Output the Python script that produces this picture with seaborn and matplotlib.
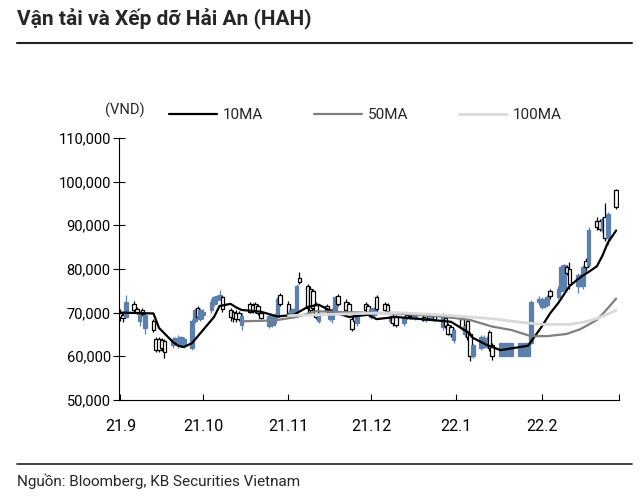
import numpy as np
import pandas as pd
import matplotlib
matplotlib.use("Agg")
import matplotlib.pyplot as plt
from matplotlib.lines import Line2D
from matplotlib.ticker import FuncFormatter
import seaborn as sns

# Trading days (weekdays) Sep 2021 - Feb 2022
dates = pd.bdate_range("2021-09-01", "2022-02-28")

# Daily prices in thousand VND (one line per month)
open_k = [70.0, 69.5, 69.0, 72.0, 70.8, 68.0, 70.5, 66.5, 68.0, 64.0, 64.0, 63.8, 63.5, 62.5, 62.8, 62.5, 62.6, 62.5, 62.0, 68.0, 71.0, 68.5,
          69.5, 70.5, 72.0, 72.8, 73.5, 73.5, 70.5, 70.2, 70.0, 69.8, 67.2, 72.0, 71.8, 72.0, 71.5, 70.0, 67.0, 67.2, 67.5, 69.0, 74.0,
          72.0, 70.0, 70.0, 70.5, 78.0, 76.0, 75.5, 75.0, 72.0, 68.0, 71.5, 68.5, 68.5, 70.5, 73.8, 72.5, 72.0, 68.5, 69.5, 67.5, 72.0, 71.5,
          69.0, 69.5, 73.5, 72.0, 71.8, 68.0, 69.2, 69.0, 67.5, 69.5, 69.2, 69.4, 68.8, 69.0, 68.2, 69.2, 68.8, 69.4, 66.8, 68.8, 67.2, 66.8, 63.8,
          68.5, 65.0, 68.0, 65.0, 60.0, 62.0, 62.5, 62.2, 65.5, 62.5, 60.0, 60.0, 60.0, 60.0, 60.0, 60.0, 60.0, 60.0, 60.0, 63.0, 72.5,
          71.2, 71.5, 71.8, 75.0, 73.5, 75.0, 75.5, 80.5, 80.0, 76.0, 76.2, 76.0, 81.8, 81.0, 91.0, 91.0, 89.0, 92.0, 87.0, 98.0]
high_k = [70.8, 70.2, 74.0, 72.6, 71.3, 70.4, 71.0, 70.0, 68.5, 64.5, 64.3, 64.2, 64.0, 64.5, 64.5, 64.8, 64.6, 64.5, 68.5, 71.0, 71.5, 71.0,
          70.8, 73.0, 73.8, 74.0, 75.2, 74.0, 71.0, 70.6, 70.5, 70.3, 69.8, 72.5, 72.3, 72.4, 72.0, 70.4, 69.8, 69.5, 69.8, 73.5, 74.5,
          72.6, 71.0, 71.0, 76.5, 79.2, 76.5, 76.0, 75.5, 72.5, 70.2, 72.0, 70.8, 71.0, 73.8, 74.2, 73.0, 72.5, 69.0, 70.0, 69.5, 72.5, 72.0,
          71.0, 71.2, 74.0, 72.5, 72.2, 69.5, 69.6, 69.4, 69.2, 70.0, 69.6, 69.8, 69.6, 69.4, 69.0, 69.6, 69.4, 69.8, 70.0, 69.2, 67.6, 67.2, 66.5,
          69.0, 67.3, 68.5, 65.5, 62.8, 64.8, 64.8, 64.6, 66.0, 63.0, 63.0, 63.0, 63.0, 63.0, 63.0, 63.0, 63.0, 63.0, 63.0, 72.8, 73.8,
          73.5, 73.4, 74.0, 75.5, 76.0, 81.0, 81.2, 81.0, 81.5, 79.0, 78.8, 81.0, 82.5, 89.5, 92.0, 91.5, 91.8, 95.0, 93.0, 98.2]
low_k = [68.0, 67.8, 68.8, 70.0, 69.6, 67.0, 69.2, 65.0, 65.5, 61.0, 61.0, 61.2, 59.5, 62.0, 62.5, 62.0, 62.2, 62.0, 61.5, 67.5, 68.5, 68.0,
         68.5, 70.0, 71.5, 72.0, 72.8, 70.2, 68.0, 67.8, 67.8, 68.0, 66.0, 69.8, 70.0, 70.0, 69.5, 68.5, 66.5, 66.8, 67.0, 68.8, 71.5,
         69.5, 69.0, 69.5, 70.0, 76.5, 70.0, 70.0, 70.5, 68.5, 67.5, 70.0, 68.0, 67.5, 70.0, 71.5, 70.0, 69.8, 65.8, 67.5, 67.0, 70.0, 69.8,
         68.5, 69.0, 70.2, 70.0, 70.0, 67.5, 67.0, 66.8, 67.0, 68.5, 68.5, 68.6, 68.4, 68.0, 67.8, 68.5, 68.4, 68.0, 66.0, 66.5, 64.8, 64.5, 63.0,
         66.0, 64.5, 63.8, 58.8, 59.5, 61.5, 62.0, 61.8, 61.2, 59.2, 60.0, 60.0, 60.0, 60.0, 60.0, 60.0, 60.0, 60.0, 60.0, 62.8, 71.8,
         70.8, 71.0, 71.2, 73.2, 73.0, 74.8, 75.0, 78.5, 75.5, 74.5, 75.8, 75.5, 79.5, 80.5, 89.0, 88.8, 88.5, 86.5, 85.5, 93.8]
close_k = [69.0, 68.8, 72.5, 70.5, 70.0, 70.0, 69.6, 69.5, 66.0, 61.5, 61.5, 61.8, 61.0, 64.0, 64.2, 64.0, 64.3, 64.0, 68.0, 70.5, 69.0, 70.5,
           70.2, 72.5, 73.5, 73.8, 74.0, 70.8, 69.0, 68.8, 68.5, 68.6, 69.2, 70.2, 70.5, 70.3, 70.0, 68.8, 69.2, 69.0, 69.5, 73.0, 72.0,
           70.0, 70.5, 70.8, 76.0, 77.0, 71.0, 70.5, 71.0, 69.0, 70.0, 70.5, 70.5, 70.8, 73.5, 72.0, 70.5, 70.2, 66.2, 68.0, 69.0, 70.5, 70.2,
           70.8, 71.0, 70.8, 70.5, 70.3, 69.0, 67.5, 67.2, 69.0, 69.0, 68.8, 69.0, 69.3, 68.4, 68.8, 68.8, 69.0, 68.4, 69.5, 67.0, 65.2, 65.0, 66.0,
           66.5, 67.0, 64.3, 60.0, 62.5, 64.5, 64.2, 64.0, 61.8, 60.0, 63.0, 63.0, 63.0, 63.0, 63.0, 63.0, 63.0, 63.0, 63.0, 72.5, 73.2,
           73.0, 73.0, 73.5, 73.8, 75.5, 80.5, 80.8, 79.0, 76.5, 78.5, 78.5, 80.5, 80.5, 89.0, 89.5, 89.2, 91.5, 87.0, 92.5, 94.2]

# Moving averages (thousand VND)
ma10_dates = ["2021-09-01", "2021-09-13", "2021-09-15", "2021-09-20", "2021-09-22", "2021-09-24", "2021-09-27",
              "2021-09-29", "2021-10-01", "2021-10-05", "2021-10-07", "2021-10-11", "2021-10-13", "2021-10-15",
              "2021-10-22", "2021-10-28", "2021-11-03", "2021-11-08", "2021-11-12", "2021-11-17", "2021-11-23",
              "2021-11-30", "2021-12-03", "2021-12-10", "2021-12-23", "2021-12-30", "2022-01-05", "2022-01-07",
              "2022-01-12", "2022-01-17", "2022-01-24", "2022-01-27", "2022-02-01", "2022-02-04", "2022-02-07",
              "2022-02-11", "2022-02-14", "2022-02-16", "2022-02-18", "2022-02-21", "2022-02-23", "2022-02-25",
              "2022-02-28"]
ma10 = [70.0, 69.8, 66.5, 63.3, 62.4, 62.1, 63.0, 64.5, 66.0, 69.0, 71.5, 72.0, 71.2, 70.6, 70.2, 69.1, 69.5, 71.3,
        71.8, 70.2, 69.0, 69.5, 68.5, 69.0, 68.3, 67.9, 65.6, 64.2, 62.6, 61.4, 62.1, 62.4, 66.8, 69.8, 72.2, 76.0,
        77.6, 78.5, 79.3, 80.6, 83.0, 86.0, 88.8]
ma50_dates = ["2021-10-15", "2021-10-27", "2021-11-04", "2021-11-11", "2021-11-22", "2021-12-10", "2021-12-28",
              "2022-01-06", "2022-01-14", "2022-01-21", "2022-01-28", "2022-02-03", "2022-02-10", "2022-02-15",
              "2022-02-21", "2022-02-24", "2022-02-28"]
ma50 = [68.0, 68.2, 69.0, 70.3, 70.1, 69.8, 69.0, 68.3, 66.8, 66.0, 64.6, 64.6, 65.1, 66.2, 68.3, 70.3, 73.2]
ma100_dates = ["2021-11-01", "2021-11-22", "2021-12-10", "2021-12-28", "2022-01-14", "2022-01-24", "2022-02-01",
               "2022-02-11", "2022-02-16", "2022-02-21", "2022-02-24", "2022-02-28"]
ma100 = [69.3, 69.7, 70.0, 69.4, 68.6, 67.8, 67.3, 67.3, 67.8, 68.6, 69.4, 70.5]

month_ticks = ["2021-09-01", "2021-10-01", "2021-11-01", "2021-12-01", "2022-01-01", "2022-02-01", "2022-03-01"]
month_labels = ["21.9", "21.10", "21.11", "21.12", "22.1", "22.2", ""]

BLUE = "#5b80ad"

sns.set_theme(style="ticks")
plt.rcParams['font.family'] = ['Roboto', 'DejaVu Sans']

df = pd.DataFrame({"date": dates, "open": np.array(open_k) * 1000, "high": np.array(high_k) * 1000,
                   "low": np.array(low_k) * 1000, "close": np.array(close_k) * 1000})
up = df["close"] >= df["open"]

fig = plt.figure(figsize=(6.4, 4.98), dpi=100)
ax = fig.add_axes([0.186, 0.197, 0.781, 0.526])

# Candles: wicks then bodies
ax.vlines(df["date"], df["low"], df["high"], colors=np.where(up, BLUE, "black"), lw=0.9, zorder=2)
ax.bar(df["date"], (df["close"] - df["open"]).abs().clip(lower=200), bottom=df[["open", "close"]].min(axis=1),
       width=1.3, color=np.where(up, BLUE, "white"), edgecolor=np.where(up, BLUE, "black"),
       linewidth=0.9, zorder=3)

# Moving averages
ma_lines = [(ma10_dates, ma10, "black", 1.6, "10MA"),
            (ma50_dates, ma50, "#7f7f7f", 1.6, "50MA"),
            (ma100_dates, ma100, "#d9d9d9", 2.0, "100MA")]
for d, v, col, lw, name in ma_lines:
    sns.lineplot(x=pd.to_datetime(d), y=np.array(v) * 1000, color=col, lw=lw, ax=ax, zorder=4)

ax.set_xlim(pd.Timestamp("2021-08-31 12:00"), pd.Timestamp("2022-03-01"))
ax.set_ylim(50000, 110000)
ax.set_xticks(pd.to_datetime(month_ticks))
ax.set_xticklabels(month_labels)
ax.set_yticks(range(50000, 110001, 10000))
ax.yaxis.set_major_formatter(FuncFormatter(lambda v, p: f"{v:,.0f}"))
ax.set_xlabel("")
ax.set_ylabel("")
ax.tick_params(axis="x", direction="in", length=4.5, width=0.8, pad=14, labelsize=11.5, colors="black")
ax.tick_params(axis="y", direction="inout", length=8, width=0.8, pad=2, labelsize=10.5, colors="black")
sns.despine(ax=ax)
for s in ["left", "bottom"]:
    ax.spines[s].set_color("black")
    ax.spines[s].set_linewidth(0.8)

handles = [Line2D([], [], color=c, lw=lw) for _, _, c, lw, _ in ma_lines]
fig.legend(handles, [m[4] for m in ma_lines], loc="center", bbox_to_anchor=(0.571, 0.769), ncol=3,
           frameon=False, fontsize=11, handlelength=3.14, handletextpad=0.4, columnspacing=3.3)

fig.text(0.195, 0.779, "(VND)", ha="center", va="center", fontsize=10.5)

# Header and footer
fig.text(0.027, 0.962, "Vận tải và Xếp dỡ Hải An (HAH)", fontsize=15, fontweight="bold", va="center")
fig.add_artist(Line2D([0.027, 0.988], [0.914, 0.914], transform=fig.transFigure, color="#222222", lw=1.5))
fig.add_artist(Line2D([0.027, 0.988], [0.068, 0.068], transform=fig.transFigure, color="#222222", lw=1.2))
fig.text(0.027, 0.034, "Nguồn: Bloomberg, KB Securities Vietnam", fontsize=11, va="center")

fig.savefig("out.png", dpi=100)
